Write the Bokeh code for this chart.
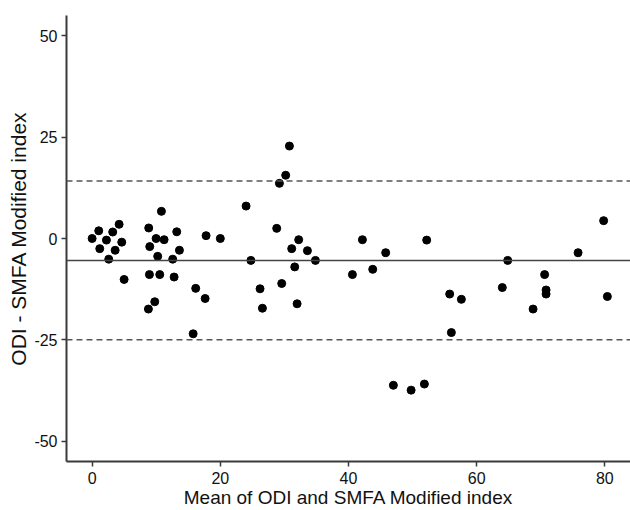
from bokeh.plotting import figure
from bokeh.models import Span, FixedTicker, Range1d, ColumnDataSource
from bokeh.embed import file_html
from bokeh.resources import INLINE

# Mean of ODI and SMFA Modified index
mean_vals = [0.0, 1.03, 2.23, 1.19, 3.21, 4.21, 3.59, 4.62, 2.59, 4.99,
             8.83, 10.81, 9.98, 11.23, 8.99, 13.2, 13.62, 10.23, 12.57, 8.94,
             10.55, 12.79, 9.77, 8.78, 17.78, 20.0, 16.16, 17.63, 15.76, 24.02,
             24.77, 26.2, 26.57, 30.78, 30.2, 29.22, 28.8, 32.23, 31.14, 33.59,
             34.84, 31.61, 29.58, 31.98, 42.17, 40.61, 43.78, 45.8, 52.2, 55.79,
             57.61, 56.05, 47.0, 49.77, 51.84, 64.0, 64.84, 75.82, 79.81, 70.6,
             70.83, 70.83, 68.8, 80.39]
# ODI - SMFA Modified index
diff_vals = [0.0, 1.9, -0.4, -2.5, 1.6, 3.5, -2.9, -0.9, -5.1, -10.1,
             2.6, 6.7, 0.0, -0.3, -2.0, 1.65, -2.9, -4.4, -5.1, -8.9,
             -8.9, -9.5, -15.6, -17.4, 0.7, 0.0, -12.3, -14.8, -23.5, 8.0,
             -5.4, -12.4, -17.2, 22.8, 15.6, 13.6, 2.5, -0.3, -2.5, -3.0,
             -5.4, -7.0, -11.1, -16.1, -0.3, -8.9, -7.6, -3.5, -0.4, -13.7,
             -15.0, -23.2, -36.2, -37.4, -35.9, -12.1, -5.4, -3.5, 4.4, -8.9,
             -12.7, -13.7, -17.4, -14.3]

bias = -5.4
upper_loa = 14.2
lower_loa = -25.0

x_ticks = [0, 20, 40, 60, 80]
y_ticks = [-50, -25, 0, 25, 50]
y_tick_labels = ["-50", "-25", "0", "25", "50"]
x_title = "Mean of ODI and SMFA Modified index"
y_title = "ODI - SMFA Modified index"

FONT = "Liberation Sans"
AX_COL = "#3a3a3a"

p = figure(width=630, height=510, output_backend="svg", toolbar_location=None,
           x_range=Range1d(-4.0, 84.0), y_range=Range1d(-55, 55),
           min_border_left=66, min_border_top=15, min_border_right=0,
           min_border_bottom=48)

p.outline_line_color = None
p.xgrid.visible = False
p.ygrid.visible = False
p.background_fill_color = "white"
p.border_fill_color = "white"

for ax in (p.xaxis[0], p.yaxis[0]):
    ax.axis_line_color = AX_COL
    ax.axis_line_width = 2
    ax.major_tick_line_color = AX_COL
    ax.major_tick_line_width = 1.5
    ax.major_tick_out = 5
    ax.major_tick_in = 0
    ax.minor_tick_line_color = None
    ax.major_label_text_font = FONT
    ax.major_label_text_font_size = "16px"
    ax.major_label_text_color = "#111111"
    ax.axis_label_text_font = FONT
    ax.axis_label_text_font_style = "normal"
    ax.axis_label_text_color = "#111111"

p.xaxis.ticker = FixedTicker(ticks=x_ticks)
p.yaxis.ticker = FixedTicker(ticks=y_ticks)
p.yaxis.major_label_overrides = {t: s for t, s in zip(y_ticks, y_tick_labels)}
p.xaxis.axis_label = x_title
p.yaxis.axis_label = y_title
p.xaxis.axis_label_text_font_size = "19px"
p.yaxis.axis_label_text_font_size = "21px"
p.xaxis.major_label_standoff = 5
p.xaxis.axis_label_standoff = 0
p.yaxis.major_label_standoff = 4
p.yaxis.axis_label_standoff = 1

p.add_layout(Span(location=bias, dimension="width", line_color="#444444", line_width=1.5))
p.add_layout(Span(location=upper_loa, dimension="width", line_color="#555555",
                  line_width=1.5, line_dash="6 4"))
p.add_layout(Span(location=lower_loa, dimension="width", line_color="#555555",
                  line_width=1.5, line_dash="6 4"))

src = ColumnDataSource(dict(x=mean_vals, y=diff_vals))
p.scatter("x", "y", source=src, size=8, fill_color="black", line_color="black")

open("out.html", "w").write(file_html(p, INLINE))
